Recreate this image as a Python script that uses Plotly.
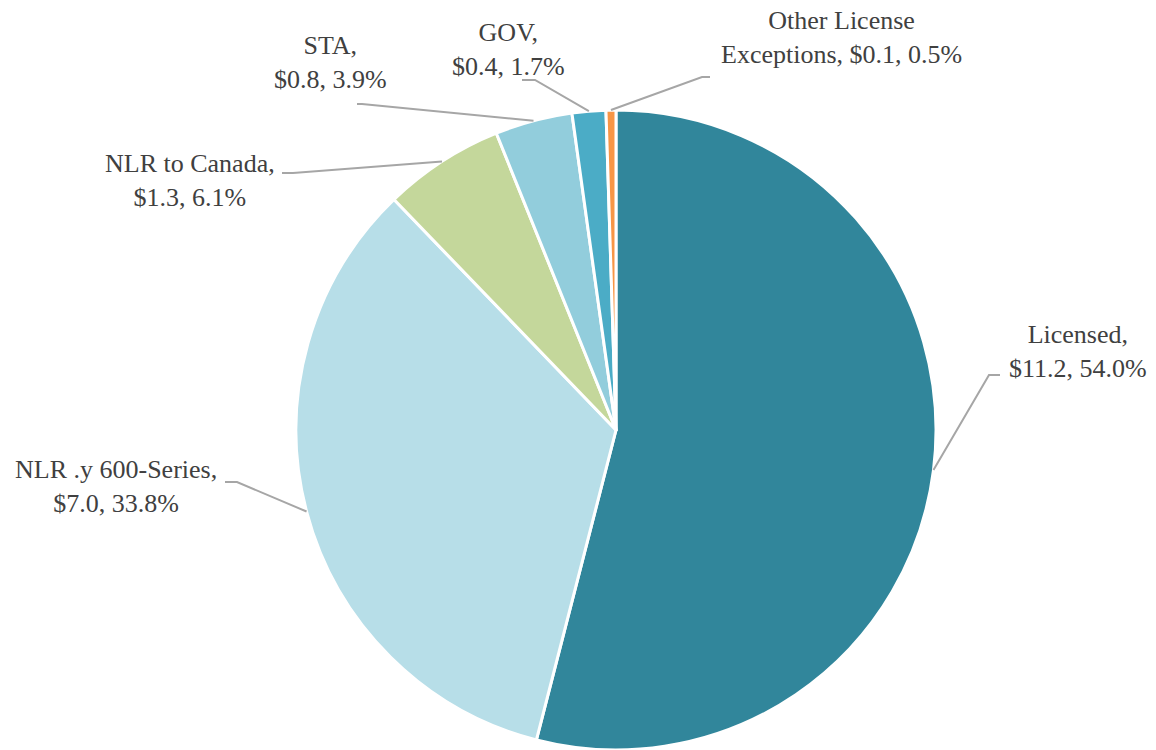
import math
import plotly.graph_objects as go

# ---- data ----
labels = ["Licensed", "NLR .y 600-Series", "NLR to Canada", "STA", "GOV", "Other License Exceptions"]
dollars = [11.2, 7.0, 1.3, 0.8, 0.4, 0.1]          # $ billions
percents = [54.0, 33.8, 6.1, 3.9, 1.7, 0.5]       # share of total (%)
label_text = [
    "Licensed,<br>$11.2, 54.0%",
    "NLR .y 600-Series,<br>$7.0, 33.8%",
    "NLR to Canada,<br>$1.3, 6.1%",
    "STA,<br>$0.8, 3.9%",
    "GOV,<br>$0.4, 1.7%",
    "Other License<br>Exceptions, $0.1, 0.5%",
]
colors = ["#31869B", "#B7DEE8", "#C4D79B", "#92CDDC", "#4BACC6", "#F79646"]

# ---- layout constants (pixels) ----
W, H = 1156, 750
CX, CY, R = 616, 430, 320
# label centres and elbow points (text side, elbow)
label_pos = [(1078, 351), (116, 486), (190, 180), (330, 62), (508, 50), (841, 38)]
elbows = [((1000, 375), (989, 375)), ((225, 482), (237, 482)), ((282, 173), (293, 173)),
          ((357, 104), (362, 104)), ((522, 80), (535, 80)), ((710, 77), (702, 77))]

def px(x):
    return x / W

def py(y):
    return 1 - y / H

fig = go.Figure(go.Pie(
    labels=labels, values=percents, sort=False, direction="clockwise", rotation=0,
    marker=dict(colors=colors, line=dict(color="white", width=3)),
    textinfo="none", hoverinfo="label+value", showlegend=False,
    domain=dict(x=[px(CX - R), px(CX + R)], y=[py(CY + R), py(CY - R)]),
))

total = sum(percents)
cum = 0.0
shapes, annotations = [], []
for i, v in enumerate(percents):
    mid = (cum + v / 2) / total * 2 * math.pi
    cum += v
    ex = CX + R * math.sin(mid)
    ey = CY - R * math.cos(mid)
    (x0, y0), (x1, y1) = elbows[i]
    shapes.append(dict(type="path", xref="paper", yref="paper",
                       path=f"M {px(x0)},{py(y0)} L {px(x1)},{py(y1)} L {px(ex)},{py(ey)}",
                       line=dict(color="#A6A6A6", width=2)))
    lx, ly = label_pos[i]
    annotations.append(dict(text=label_text[i], x=px(lx), y=py(ly), xref="paper", yref="paper",
                            xanchor="center", yanchor="middle", showarrow=False, align="center",
                            font=dict(family="Liberation Serif, Times New Roman, serif", size=26,
                                      color="#404040")))

fig.update_layout(width=W, height=H, margin=dict(l=0, r=0, t=0, b=0),
                  paper_bgcolor="white", plot_bgcolor="white",
                  shapes=shapes, annotations=annotations)
fig.write_html("out.html", config={"displayModeBar": False},
               post_script="document.body.style.margin='0';document.body.style.overflow='hidden';")
